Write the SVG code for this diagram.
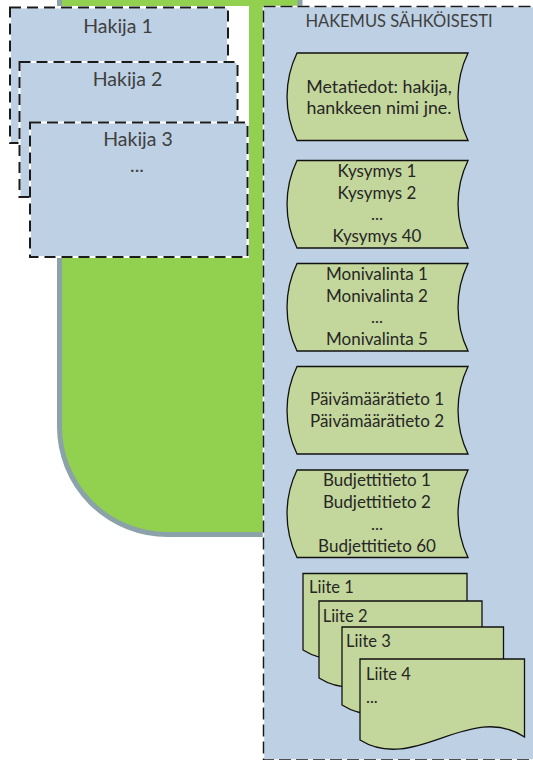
<svg xmlns="http://www.w3.org/2000/svg" width="533" height="760" viewBox="0 0 533 760">
<defs>
<style>
.bg{fill:#BDD0E4}
.under{fill:none;stroke:#FFFFFF}
.dash{fill:none;stroke:#1A1A1A;stroke-dasharray:11 6}
.store{fill:#C3D69B;stroke:#111;stroke-width:1.3}
.t{font-family:Lato,"Liberation Sans",sans-serif;fill:#262626}
.c{text-anchor:middle;font-size:17px}
.h{text-anchor:middle;font-size:19.5px;fill:#404040}
.l{font-size:16.5px}
</style>
</defs>
<rect width="533" height="760" fill="#FFFFFF"/>
<g id="green-area">
<path d="M59.5,-10 L59.5,426.5 A108,108 0 0 0 167.5,534.5 L300,534.5 L300,-10 Z" fill="#92D050" stroke="#8BA2A9" stroke-width="5"/>
</g>
<g id="hakijat">
<rect x="9" y="6" width="240" height="252" fill="#FFFFFF"/>
<g id="hakija1">
<rect class="bg" x="10" y="7.5" width="218" height="135.5"/>
<rect class="under" x="10" y="7.5" width="218" height="135.5" stroke-width="2"/>
<rect class="dash" x="10" y="7.5" width="218" height="135.5" stroke-width="2"/>
<text class="t h" x="118" y="32.5">Hakija 1</text>
</g>
<g id="hakija2">
<rect class="bg" x="19.5" y="62" width="218" height="135"/>
<rect class="under" x="19.5" y="62" width="218" height="135" stroke-width="2"/>
<rect class="dash" x="19.5" y="62" width="218" height="135" stroke-width="2"/>
<text class="t h" x="127.5" y="86">Hakija 2</text>
</g>
<g id="hakija3">
<rect class="bg" x="30" y="122.5" width="217.5" height="134.5"/>
<rect class="under" x="30" y="122.5" width="217.5" height="134.5" stroke-width="2"/>
<rect class="dash" x="30" y="122.5" width="217.5" height="134.5" stroke-width="2"/>
<text class="t h" x="138" y="146">Hakija 3</text>
<text class="t h" x="137" y="172">...</text>
</g>
</g>
<g id="hakemus">
<rect class="bg" x="263.5" y="6.5" width="300" height="753.5"/>
<rect class="under" x="263.5" y="6.5" width="300" height="753.5" stroke-width="1.5"/>
<rect class="dash" x="263.5" y="6.5" width="300" height="753.5" stroke-width="1.5" style="stroke-dasharray:12 5"/>
<text class="t c" x="399" y="27" style="fill:#404040;font-size:16.5px">HAKEMUS SÄHKÖISESTI</text>
</g>
<g id="metatiedot">
<path class="store" d="M297,53 L468,53 A101,101 0 0 0 468,140.5 L297,140.5 A101,101 0 0 1 297,53 Z"/>
<text class="t c" x="379" y="93" style="font-size:17.8px">Metatiedot: hakija,</text>
<text class="t c" x="379" y="114" style="font-size:17.8px">hankkeen nimi jne.</text>
</g>
<g id="kysymykset">
<path class="store" d="M297,160.5 L468,160.5 A101,101 0 0 0 468,248 L297,248 A101,101 0 0 1 297,160.5 Z"/>
<text class="t c" x="377" y="176.8">Kysymys 1</text>
<text class="t c" x="377" y="198.5">Kysymys 2</text>
<text class="t c" x="377" y="220.2">...</text>
<text class="t c" x="377" y="241.9">Kysymys 40</text>
</g>
<g id="monivalinnat">
<path class="store" d="M297,263.5 L468,263.5 A101,101 0 0 0 468,351 L297,351 A101,101 0 0 1 297,263.5 Z"/>
<text class="t c" x="377" y="279.6">Monivalinta 1</text>
<text class="t c" x="377" y="301.5">Monivalinta 2</text>
<text class="t c" x="377" y="323.4">...</text>
<text class="t c" x="377" y="345.3">Monivalinta 5</text>
</g>
<g id="paivamaarat">
<path class="store" d="M297,366.5 L468,366.5 A101,101 0 0 0 468,454 L297,454 A101,101 0 0 1 297,366.5 Z"/>
<text class="t c" x="377" y="405">Päivämäärätieto 1</text>
<text class="t c" x="377" y="426.8">Päivämäärätieto 2</text>
</g>
<g id="budjetti">
<path class="store" d="M297,470 L468,470 A101,101 0 0 0 468,557.5 L297,557.5 A101,101 0 0 1 297,470 Z"/>
<text class="t c" x="377" y="486.2">Budjettitieto 1</text>
<text class="t c" x="377" y="508">Budjettitieto 2</text>
<text class="t c" x="377" y="529.8">...</text>
<text class="t c" x="377" y="551.6">Budjettitieto 60</text>
</g>
<g id="liite1">
<path class="store" d="M303,573.5 L467,573.5 L467,647 C412.3,611 357.7,684 303,650 Z"/>
<text class="t l" x="309" y="592.7">Liite 1</text>
</g>
<g id="liite2">
<path class="store" d="M319,601 L482,601 L482,675 C427.7,639 373.3,712 319,678 Z"/>
<text class="t l" x="322.7" y="621.7">Liite 2</text>
</g>
<g id="liite3">
<path class="store" d="M342,627 L503.5,627 L503.5,702 C449.7,666 395.8,739 342,705 Z"/>
<text class="t l" x="346" y="647.3">Liite 3</text>
</g>
<g id="liite4">
<path class="store" d="M360,659 L524.5,659 L524.5,737 C469.7,701 414.8,774 360,740 Z"/>
<text class="t l" x="366" y="680">Liite 4</text>
<text class="t l" x="366" y="702.7">...</text>
</g>
<g id="connectors"/>
</svg>
